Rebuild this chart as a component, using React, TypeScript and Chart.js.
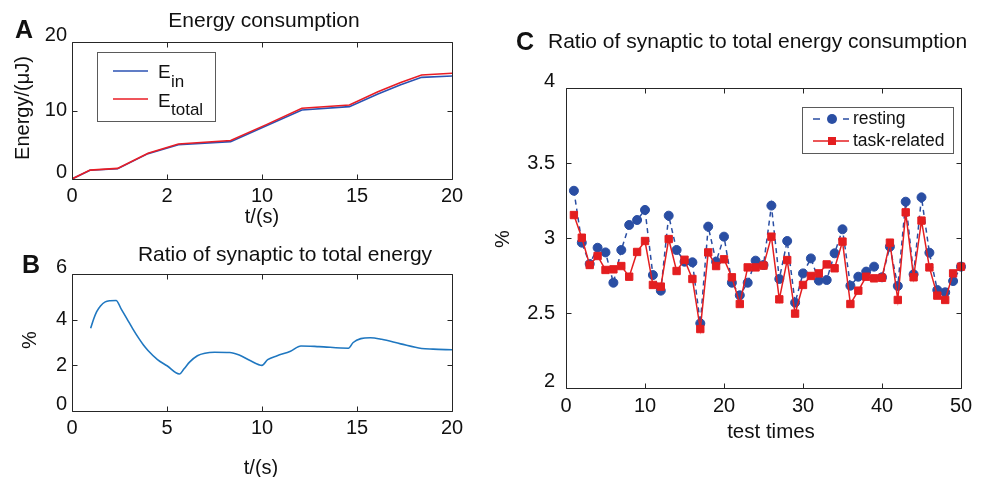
import { useEffect, useRef } from "react";
import { Chart, registerables } from "chart.js";

Chart.register(...registerables);

const W = 984;
const H = 477;
const FONT = '"Liberation Sans", Arial, Helvetica, sans-serif';
const AXIS = "#262626";
const TEXT = "#111111";

// Panel A: cumulative energy
const energyTime = [0, 0.95, 2.4, 4.0, 5.6, 8.35, 10.2, 12.1, 14.6, 16.1, 17.3, 18.4, 20];
const energyIn = [0, 1.28, 1.5, 3.7, 5.0, 5.45, 7.75, 10.07, 10.56, 12.4, 13.75, 14.84, 15.04];
const energyTotal = [0, 1.3, 1.55, 3.75, 5.1, 5.62, 7.9, 10.32, 10.8, 12.75, 14.1, 15.18, 15.43];
const aXTicks = [0, 5, 10, 15, 20];
const aXTickLabels = ["0", "2", "10", "15", "20"];
const aYTicks = [0, 10, 20];

// Panel B: synaptic share over time
const ratioTime = [0.98, 1.15, 1.3, 1.5, 1.75, 2.0, 2.32, 2.6, 2.88, 3.2, 3.5, 3.75, 4.0, 4.5, 5.0, 5.65, 5.9, 6.2, 6.6, 7.0, 7.5, 8.3, 8.8, 9.4, 10.0, 10.3, 10.8, 11.5, 12.05, 13.0, 14.55, 14.8, 15.2, 15.7, 16.3, 17.3, 18.4, 19.0, 20.0];
const ratioValue = [3.62, 4.05, 4.35, 4.6, 4.78, 4.83, 4.84, 4.45, 4.06, 3.6, 3.2, 2.9, 2.65, 2.25, 1.98, 1.62, 1.85, 2.15, 2.42, 2.53, 2.57, 2.56, 2.45, 2.2, 2.0, 2.25, 2.42, 2.62, 2.85, 2.82, 2.75, 3.0, 3.17, 3.21, 3.14, 2.94, 2.74, 2.71, 2.68];
const bXTicks = [0, 5, 10, 15, 20];
const bYTicks = [0, 2, 4, 6];

// Panel C: per-test ratio, resting vs task-related
const testTimes = [1, 2, 3, 4, 5, 6, 7, 8, 9, 10, 11, 12, 13, 14, 15, 16, 17, 18, 19, 20, 21, 22, 23, 24, 25, 26, 27, 28, 29, 30, 31, 32, 33, 34, 35, 36, 37, 38, 39, 40, 41, 42, 43, 44, 45, 46, 47, 48, 49, 50];
const resting = [3.315, 2.969, 2.827, 2.935, 2.904, 2.702, 2.92, 3.087, 3.12, 3.187, 2.753, 2.649, 3.149, 2.92, 2.842, 2.838, 2.431, 3.076, 2.842, 3.009, 2.702, 2.618, 2.702, 2.849, 2.82, 3.216, 2.727, 2.98, 2.569, 2.764, 2.864, 2.716, 2.72, 2.898, 3.058, 2.682, 2.742, 2.776, 2.809, 2.738, 2.942, 2.68, 3.242, 2.758, 3.271, 2.902, 2.653, 2.638, 2.713, 2.809];
const taskRelated = [3.153, 3.002, 2.82, 2.88, 2.787, 2.791, 2.813, 2.742, 2.907, 2.98, 2.687, 2.676, 2.993, 2.78, 2.855, 2.727, 2.393, 2.904, 2.813, 2.858, 2.738, 2.56, 2.804, 2.804, 2.816, 3.009, 2.591, 2.853, 2.496, 2.687, 2.747, 2.764, 2.824, 2.798, 2.976, 2.56, 2.649, 2.742, 2.731, 2.735, 2.969, 2.587, 3.171, 2.738, 3.116, 2.804, 2.616, 2.587, 2.764, 2.809];
const cXTicks = [0, 10, 20, 30, 40, 50];
const cYTicks = [2, 2.5, 3, 3.5, 4];
const cYTickLabels = ["2", "2.5", "3", "3.5", "4"];

const BLUE_A = "#2b52b3";
const RED_A = "#ea1d25";
const BLUE_B = "#1f77c0";
const BLUE_C = "#2a4ea3";
const RED_C = "#e41e20";

type Txt = {
  text: string;
  x: number;
  y: number;
  size: number;
  bold?: boolean;
  align?: CanvasTextAlign;
  rotate?: boolean;
};

type FrameSpec = {
  xTicks: number[];
  xLabels: string[];
  yTicks: number[];
  yLabels: string[];
  tickSize: number;
  yLabelRight: number;
  xLabelY: number;
  texts: Txt[];
  legend?: (ctx: CanvasRenderingContext2D) => void;
};

const font = (size: number, bold = false) => `${bold ? "bold " : ""}${size}px ${FONT}`;

// Boxed axes with inward ticks on all four sides, plus labels and titles.
function framePlugin(spec: FrameSpec) {
  return {
    id: "frame",
    afterDraw(chart: any) {
      const ctx: CanvasRenderingContext2D = chart.ctx;
      const a = chart.chartArea;
      const xs = chart.scales.x;
      const ys = chart.scales.y;
      const L = Math.round(a.left) + 0.5;
      const R = Math.round(a.right) + 0.5;
      const T = Math.round(a.top) + 0.5;
      const B = Math.round(a.bottom) + 0.5;
      const tick = 5;
      ctx.save();
      ctx.strokeStyle = AXIS;
      ctx.lineWidth = 1;
      ctx.beginPath();
      ctx.rect(L, T, R - L, B - T);
      for (const v of spec.xTicks) {
        const px = Math.round(xs.getPixelForValue(v)) + 0.5;
        ctx.moveTo(px, B);
        ctx.lineTo(px, B - tick);
        ctx.moveTo(px, T);
        ctx.lineTo(px, T + tick);
      }
      for (const v of spec.yTicks) {
        const py = Math.round(ys.getPixelForValue(v)) + 0.5;
        ctx.moveTo(L, py);
        ctx.lineTo(L + tick, py);
        ctx.moveTo(R, py);
        ctx.lineTo(R - tick, py);
      }
      ctx.stroke();

      ctx.fillStyle = TEXT;
      ctx.font = font(spec.tickSize);
      ctx.textBaseline = "middle";
      ctx.textAlign = "center";
      spec.xTicks.forEach((v, i) => {
        ctx.fillText(spec.xLabels[i], xs.getPixelForValue(v), spec.xLabelY);
      });
      ctx.textAlign = "right";
      const last = spec.yTicks.length - 1;
      spec.yTicks.forEach((v, i) => {
        const shift = i === 0 || i === last ? -7 : 0;
        ctx.fillText(spec.yLabels[i], spec.yLabelRight, ys.getPixelForValue(v) + shift);
      });

      for (const t of spec.texts) {
        ctx.save();
        ctx.font = font(t.size, t.bold);
        ctx.textAlign = t.align ?? "center";
        ctx.textBaseline = "middle";
        ctx.translate(t.x, t.y);
        if (t.rotate) ctx.rotate(-Math.PI / 2);
        ctx.fillText(t.text, 0, 0);
        ctx.restore();
      }
      if (spec.legend) spec.legend(ctx);
      ctx.restore();
    },
  };
}

function legendBox(ctx: CanvasRenderingContext2D, x0: number, y0: number, x1: number, y1: number) {
  ctx.fillStyle = "#ffffff";
  ctx.fillRect(x0, y0, x1 - x0, y1 - y0);
  ctx.strokeStyle = "#5a5a5a";
  ctx.lineWidth = 1;
  ctx.strokeRect(x0 + 0.5, y0 + 0.5, x1 - x0, y1 - y0);
}

function legendA(ctx: CanvasRenderingContext2D) {
  legendBox(ctx, 97, 52, 215, 121);
  ctx.lineWidth = 1.5;
  ctx.strokeStyle = BLUE_A;
  ctx.beginPath();
  ctx.moveTo(113, 71);
  ctx.lineTo(148, 71);
  ctx.stroke();
  ctx.strokeStyle = RED_A;
  ctx.beginPath();
  ctx.moveTo(113, 99);
  ctx.lineTo(148, 99);
  ctx.stroke();
  ctx.fillStyle = TEXT;
  ctx.textAlign = "left";
  ctx.textBaseline = "alphabetic";
  ctx.font = font(19);
  ctx.fillText("E", 158, 78);
  ctx.fillText("E", 158, 107);
  ctx.font = font(17);
  ctx.fillText("in", 171, 87);
  ctx.fillText("total", 171, 115);
}

function legendC(ctx: CanvasRenderingContext2D) {
  legendBox(ctx, 802, 107, 953, 153);
  const cx = 832;
  ctx.lineWidth = 1.5;
  ctx.strokeStyle = BLUE_C;
  ctx.beginPath();
  ctx.moveTo(813, 119);
  ctx.lineTo(820, 119);
  ctx.moveTo(843, 119);
  ctx.lineTo(849, 119);
  ctx.stroke();
  ctx.fillStyle = BLUE_C;
  ctx.beginPath();
  ctx.arc(cx, 119, 5, 0, Math.PI * 2);
  ctx.fill();
  ctx.strokeStyle = RED_C;
  ctx.beginPath();
  ctx.moveTo(813, 141);
  ctx.lineTo(849, 141);
  ctx.stroke();
  ctx.fillStyle = RED_C;
  ctx.fillRect(cx - 4, 137, 8, 8);
  ctx.fillStyle = TEXT;
  ctx.font = font(17.5);
  ctx.textAlign = "left";
  ctx.textBaseline = "middle";
  ctx.fillText("resting", 853, 119);
  ctx.fillText("task-related", 853, 141);
}

function hiddenScales(xMin: number, xMax: number, yMin: number, yMax: number) {
  return {
    x: { type: "linear" as const, min: xMin, max: xMax, display: false },
    y: { type: "linear" as const, min: yMin, max: yMax, display: false },
  };
}

function pad(left: number, top: number, right: number, bottom: number) {
  return { left, top, right: W - right, bottom: H - bottom };
}

const basePlugins = { legend: { display: false }, tooltip: { enabled: false }, title: { display: false } };

function Panel({ build }: { build: (c: HTMLCanvasElement) => Chart }) {
  const ref = useRef<HTMLCanvasElement | null>(null);
  useEffect(() => {
    if (!ref.current) return;
    const chart = build(ref.current);
    return () => chart.destroy();
  }, [build]);
  return <canvas ref={ref} width={W} height={H} style={{ position: "absolute", left: 0, top: 0, width: W, height: H }} />;
}

function buildA(canvas: HTMLCanvasElement) {
  return new Chart(canvas, {
    type: "line",
    data: {
      datasets: [
        {
          label: "E_total",
          data: energyTime.map((t, i) => ({ x: t, y: energyTotal[i] })),
          borderColor: RED_A,
          borderWidth: 1.6,
          pointRadius: 0,
          tension: 0,
          order: 1,
        },
        {
          label: "E_in",
          data: energyTime.map((t, i) => ({ x: t, y: energyIn[i] })),
          borderColor: BLUE_A,
          borderWidth: 1.6,
          pointRadius: 0,
          tension: 0,
          order: 2,
        },
      ],
    },
    options: {
      responsive: false,
      animation: false,
      devicePixelRatio: 1,
      layout: { padding: pad(72, 42, 452, 179) },
      scales: hiddenScales(0, 20, 0, 20),
      plugins: basePlugins,
    },
    plugins: [
      framePlugin({
        xTicks: aXTicks,
        xLabels: aXTickLabels,
        yTicks: aYTicks,
        yLabels: aYTicks.map(String),
        tickSize: 20,
        yLabelRight: 67,
        xLabelY: 196,
        texts: [
          { text: "A", x: 24, y: 31, size: 25, bold: true },
          { text: "Energy consumption", x: 264, y: 21, size: 21 },
          { text: "Energy/(μJ)", x: 23, y: 108, size: 20, rotate: true },
          { text: "t/(s)", x: 262, y: 217, size: 20 },
        ],
        legend: legendA,
      }),
    ],
  } as any);
}

function buildB(canvas: HTMLCanvasElement) {
  return new Chart(canvas, {
    type: "line",
    data: {
      datasets: [
        {
          label: "ratio",
          data: ratioTime.map((t, i) => ({ x: t, y: ratioValue[i] })),
          borderColor: BLUE_B,
          borderWidth: 1.6,
          pointRadius: 0,
          cubicInterpolationMode: "monotone",
        },
      ],
    },
    options: {
      responsive: false,
      animation: false,
      devicePixelRatio: 1,
      layout: { padding: pad(72, 274, 452, 411) },
      scales: hiddenScales(0, 20, 0, 6),
      plugins: basePlugins,
    },
    plugins: [
      framePlugin({
        xTicks: bXTicks,
        xLabels: bXTicks.map(String),
        yTicks: bYTicks,
        yLabels: bYTicks.map(String),
        tickSize: 20,
        yLabelRight: 67,
        xLabelY: 428,
        texts: [
          { text: "B", x: 31, y: 266, size: 25, bold: true },
          { text: "Ratio of synaptic to total energy", x: 285, y: 255, size: 21 },
          { text: "%", x: 30, y: 340, size: 20, rotate: true },
          { text: "t/(s)", x: 261, y: 468, size: 20 },
        ],
      }),
    ],
  } as any);
}

function buildC(canvas: HTMLCanvasElement) {
  return new Chart(canvas, {
    type: "line",
    data: {
      datasets: [
        {
          label: "task-related",
          data: testTimes.map((t, i) => ({ x: t, y: taskRelated[i] })),
          borderColor: RED_C,
          backgroundColor: RED_C,
          borderWidth: 1.5,
          pointStyle: "rect",
          pointRadius: 5.2,
          pointBorderWidth: 1,
          pointBorderColor: RED_C,
          pointBackgroundColor: RED_C,
          tension: 0,
          clip: false,
          order: 1,
        },
        {
          label: "resting",
          data: testTimes.map((t, i) => ({ x: t, y: resting[i] })),
          borderColor: BLUE_C,
          backgroundColor: BLUE_C,
          borderWidth: 1.5,
          borderDash: [5, 4],
          pointStyle: "circle",
          pointRadius: 4.5,
          pointBorderWidth: 1,
          pointBorderColor: BLUE_C,
          pointBackgroundColor: BLUE_C,
          tension: 0,
          clip: false,
          order: 2,
        },
      ],
    },
    options: {
      responsive: false,
      animation: false,
      devicePixelRatio: 1,
      layout: { padding: pad(566, 88, 961, 388) },
      scales: hiddenScales(0, 50, 2, 4),
      plugins: basePlugins,
    },
    plugins: [
      framePlugin({
        xTicks: cXTicks,
        xLabels: cXTicks.map(String),
        yTicks: cYTicks,
        yLabels: cYTickLabels,
        tickSize: 20,
        yLabelRight: 555,
        xLabelY: 406,
        texts: [
          { text: "C", x: 525, y: 43, size: 25, bold: true },
          { text: "Ratio of synaptic to total energy consumption", x: 548, y: 42, size: 21, align: "left" },
          { text: "%", x: 503, y: 239, size: 20, rotate: true },
          { text: "test times", x: 771, y: 432, size: 20.5 },
        ],
        legend: legendC,
      }),
    ],
  } as any);
}

export default function App() {
  return (
    <div style={{ position: "absolute", left: 0, top: 0, width: W, height: H, background: "#ffffff", overflow: "hidden" }}>
      <Panel build={buildA} />
      <Panel build={buildB} />
      <Panel build={buildC} />
    </div>
  );
}
